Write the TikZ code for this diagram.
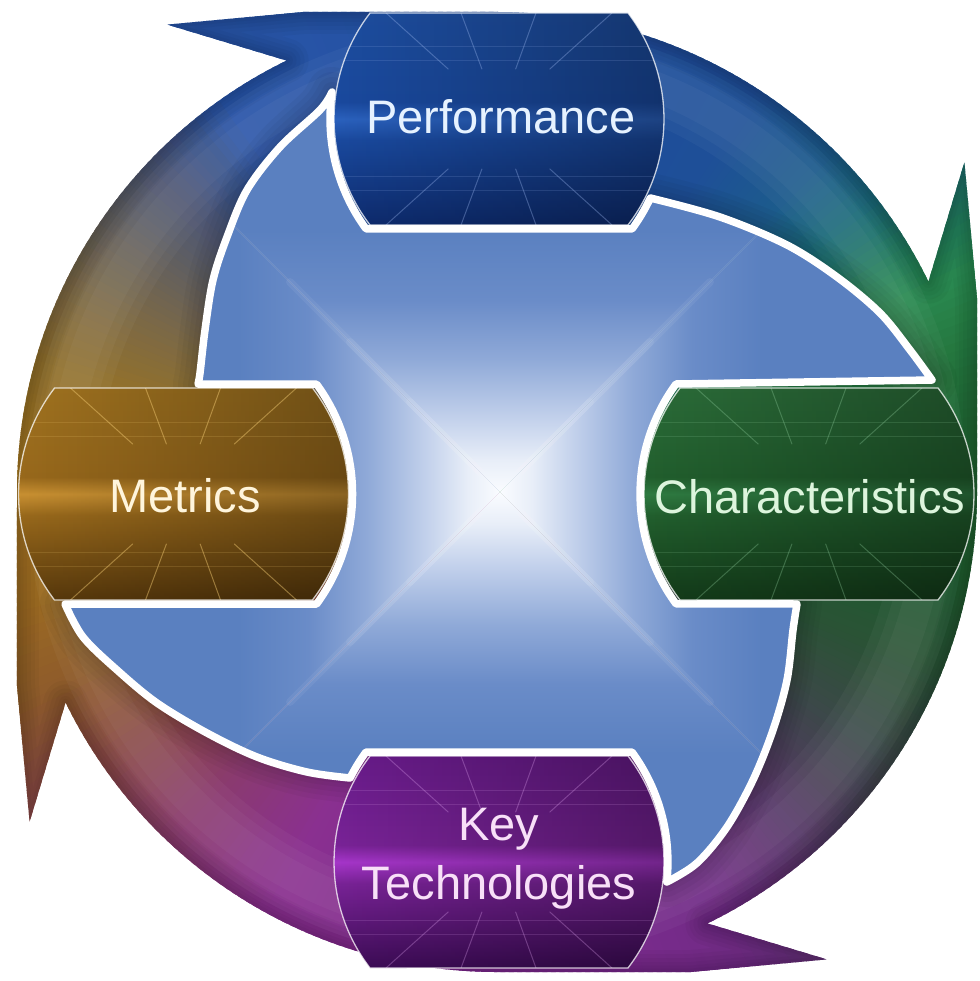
\documentclass[tikz,border=0pt]{standalone}
\usepackage{fontspec}
\newfontfamily\labelfont{Liberation Sans}
\usetikzlibrary{fadings}

% box colours
\definecolor{perfTop}{HTML}{1E4FA2}
\definecolor{perfMid}{HTML}{1A4AA0}
\definecolor{perfHi}{HTML}{2B62C0}
\definecolor{perfBot}{HTML}{0E2C70}
\definecolor{perfGrid}{HTML}{9DB8F0}
\definecolor{perfText}{HTML}{E6F2FF}

\definecolor{charTop}{HTML}{2C6E3A}
\definecolor{charMid}{HTML}{22602E}
\definecolor{charHi}{HTML}{2F7C42}
\definecolor{charBot}{HTML}{143C1A}
\definecolor{charGrid}{HTML}{9AD8A8}
\definecolor{charText}{HTML}{DDF5DD}

\definecolor{keyTop}{HTML}{6A1C8C}
\definecolor{keyMid}{HTML}{7A2398}
\definecolor{keyHi}{HTML}{A836CC}
\definecolor{keyBot}{HTML}{3E0C58}
\definecolor{keyGrid}{HTML}{E4A8F4}
\definecolor{keyText}{HTML}{F8E0F8}

\definecolor{metrTop}{HTML}{A27420}
\definecolor{metrMid}{HTML}{9A6A1C}
\definecolor{metrHi}{HTML}{CB9232}
\definecolor{metrBot}{HTML}{5A3A0C}
\definecolor{metrGrid}{HTML}{F4CC74}
\definecolor{metrText}{HTML}{FFF5DC}

% hub colours, from the centre outwards
\definecolor{hubA}{HTML}{FAFCFF}
\definecolor{hubB}{HTML}{E8EEF8}
\definecolor{hubC}{HTML}{C4D2EC}
\definecolor{hubD}{HTML}{90AAD8}
\definecolor{hubE}{HTML}{6A8CC8}
\definecolor{hubF}{HTML}{5A80C0}

% (a shaded path spans 25bp..75bp of its shading)
\pgfdeclareverticalshading{perfshade}{100bp}{color(0bp)=(perfBot); color(25bp)=(perfBot); color(45bp)=(perfMid); color(50bp)=(perfHi); color(54bp)=(perfMid); color(75bp)=(perfTop); color(100bp)=(perfTop)}
\pgfdeclareverticalshading{charshade}{100bp}{color(0bp)=(charBot); color(25bp)=(charBot); color(45bp)=(charMid); color(50bp)=(charHi); color(54bp)=(charMid); color(75bp)=(charTop); color(100bp)=(charTop)}
\pgfdeclareverticalshading{keyshade}{100bp}{color(0bp)=(keyBot); color(25bp)=(keyBot); color(45bp)=(keyMid); color(50bp)=(keyHi); color(54bp)=(keyMid); color(75bp)=(keyTop); color(100bp)=(keyTop)}
\pgfdeclareverticalshading{metrshade}{100bp}{color(0bp)=(metrBot); color(25bp)=(metrBot); color(45bp)=(metrMid); color(50bp)=(metrHi); color(54bp)=(metrMid); color(75bp)=(metrTop); color(100bp)=(metrTop)}

% square hub gradient: four triangles, each shaded from the centre outwards
\pgfdeclareverticalshading{hubup}{100bp}{color(0bp)=(hubA); color(25bp)=(hubA); color(28.3bp)=(hubB); color(32.5bp)=(hubC); color(38.75bp)=(hubD); color(45bp)=(hubE); color(52.3bp)=(hubF); color(100bp)=(hubF)}
\pgfdeclareverticalshading{hubdown}{100bp}{color(0bp)=(hubF); color(47.7bp)=(hubF); color(55bp)=(hubE); color(61.25bp)=(hubD); color(67.5bp)=(hubC); color(71.7bp)=(hubB); color(75bp)=(hubA); color(100bp)=(hubA)}
\pgfdeclarehorizontalshading{hubright}{100bp}{color(0bp)=(hubA); color(25bp)=(hubA); color(28.3bp)=(hubB); color(32.5bp)=(hubC); color(38.75bp)=(hubD); color(45bp)=(hubE); color(52.3bp)=(hubF); color(100bp)=(hubF)}
\pgfdeclarehorizontalshading{hubleft}{100bp}{color(0bp)=(hubF); color(47.7bp)=(hubF); color(55bp)=(hubE); color(61.25bp)=(hubD); color(67.5bp)=(hubC); color(71.7bp)=(hubB); color(75bp)=(hubA); color(100bp)=(hubA)}

\tikzfading[name=darkright, left color=transparent!100, right color=transparent!0]

\tikzset{
  boxlabel/.style={font=\labelfont\fontsize{47}{59}\selectfont, inner sep=0pt, align=center},
  gridline/.style={line width=1pt, line cap=round},
  boxrim/.style={draw=white, draw opacity=0.75, line width=1.3pt},
  hubrim/.style={draw=white, line width=7.5pt, line join=round},
}

% label box: straight top and bottom, bulging circular sides (local coordinates)
\def\boxshape{(-129,-106) -- (129,-106) arc[start angle=-37.5, end angle=37.5, radius=174.06] -- (-129,106) arc[start angle=142.5, end angle=217.5, radius=174.06] -- cycle}

% outline of the light hub, hugging the four boxes
\def\centralpath{(332,92) arc[start angle=188.3, end angle=143.8, radius=186.1]
  -- (632,229) arc[start angle=36.2, end angle=25.1, radius=186.1]
  -- plot[smooth, tension=0.55] coordinates {(650.3,198) (720,217) (787,245) (837,277) (880,313) (910,350) (932,380)}
  -- (676,384) arc[start angle=216.2, end angle=143.8, radius=186.1]
  -- (797,604)
  -- plot[smooth, tension=0.55] coordinates {(797,604) (793,630) (787,680) (773,730) (753,780) (727,827) (697,863) (666.8,882)}
  arc[start angle=6.2, end angle=-36.2, radius=186.1]
  -- (366,752) arc[start angle=216.2, end angle=206.8, radius=186.1]
  -- plot[smooth, tension=0.55] coordinates {(350.1,778) (307,772) (257,757) (207,733) (157,703) (117,670) (83,637) (65,604)}
  -- (316.6,604) arc[start angle=36.2, end angle=-36.2, radius=186.1]
  -- (198,384)
  -- plot[smooth, tension=0.55] coordinates {(198,384) (200,373) (205,330) (213,280) (227,237) (247,190) (280,147) (320,110) (332,92)}
  -- cycle}

% one label box: centre x, centre y, shading, grid options
\newcommand\cyclebox[4]{%
  \begin{scope}[shift={(#1,#2)}]
    \shade[shading=#3] \boxshape;
    \fill[black, fill opacity=0.33, path fading=darkright] \boxshape;
    \begin{scope}
      \clip \boxshape;
      \foreach \gx in {-113,-38,37,113}{
        \draw[gridline, #4] (\gx,-106) -- ({0.45*\gx},-50);
        \draw[gridline, #4] (\gx,106) -- ({0.45*\gx},50);
      }
      \foreach \gy in {-72,-58,58,72}
        \draw[gridline, #4, draw opacity=0.16] (-170,\gy) -- (170,\gy);
    \end{scope}
    \draw[boxrim] \boxshape;
  \end{scope}}

\begin{document}
\begin{tikzpicture}[x=1pt, y=-1pt]
\useasboundingbox (0,0) rectangle (979,981);
\fill[white] (0,0) rectangle (979,981);

% ---- the circular band of four arrows ----
\begin{scope}[shift={(497,492)}]
\begin{scope}[yscale=-1]
  \def\ringedge{(125.2:572) -- (112:517.7) -- (90:480) arc[start angle=90, end angle=26, radius=480]
    -- (35.2:572) -- (22:517.7) -- (0:480) arc[start angle=0, end angle=-64, radius=480]
    -- (-54.8:572) -- (-68:517.7) -- (-90:480) arc[start angle=-90, end angle=-154, radius=480]
    -- (-144.8:572) -- (-158:517.7) -- (-180:480) arc[start angle=-180, end angle=-244, radius=480]
    -- cycle}
  \begin{scope}
    \clip \ringedge;
    \foreach \ra/\rc [remember=\ra as \pra (initially 126), remember=\rc as \prc (initially 2A56AA)] in
      {126/2A56AA, 110/2653A5, 80/1F4C9C, 58/1E4F98, 46/1C5B8C, 38/1A6A78, 31/227C5C, 26/2A8A52,
       18/25783F, 8/1F6633, -10/1E5B2F, -22/2B5236, -32/394A46, -42/4A3E58, -52/5E3470, -62/722C86,
       -75/7A2A8E, -100/7E2A8E, -118/8A3090, -132/8A3A70, -145/8A4A48, -155/8E5A2C, -166/9A6A22,
       -182/A67820, -196/90702E, -206/7A6848, -216/5E5E62, -224/4A5578, -230/34528F, -234/2A56AA}{
      \pgfmathtruncatemacro{\rn}{\pra-(\ra)}
      \ifnum\rn>0
        \definecolor{ringA}{HTML}{\prc}
        \definecolor{ringB}{HTML}{\rc}
        \foreach \ri in {1,...,\rn}{
          \pgfmathsetmacro{\rt}{\pra-\ri+1}
          \pgfmathtruncatemacro{\rp}{100*(\ri-1)/\rn}
          \fill[ringB!\rp!ringA] (0,0) -- (\rt:650) arc[start angle=\rt, end angle=\rt-1.6, radius=650] -- cycle;
        }
      \fi
    }
    % soft tube look: lighter middle, darker rim
    \foreach \w in {70,50,30}
      \draw[white, draw opacity=0.035, line width=\w] (0,0) circle[radius=435];
    \foreach \w in {44,36,28,20,13,7}
      \draw[black, draw opacity=0.03, line width=\w, line join=round] \ringedge;
  \end{scope}
\end{scope}
\end{scope}

% shadow of the band along the hub
\foreach \w in {50,40,30,20,12}
  \draw[black, draw opacity=0.035, line width=\w, line join=round] \centralpath;

% ---- light hub ----
\begin{scope}
  \clip \centralpath;
  \shade[shading=hubup] (500,492) -- (20,12) -- (980,12) -- cycle;
  \shade[shading=hubdown] (500,492) -- (20,972) -- (980,972) -- cycle;
  \shade[shading=hubright] (500,492) -- (980,12) -- (980,972) -- cycle;
  \shade[shading=hubleft] (500,492) -- (20,12) -- (20,972) -- cycle;
  % soft light creases along the diagonals, strongest near the centre
  \draw[white, draw opacity=0.10, line width=1.5] (20,12) -- (980,972) (980,12) -- (20,972);
  \foreach \dl in {90,150,210}
    \draw[white, draw opacity=0.06, line width=8, line cap=round]
      (500-\dl,492-\dl) -- (500+\dl,492+\dl) (500+\dl,492-\dl) -- (500-\dl,492+\dl);
\end{scope}
\draw[hubrim] \centralpath;

% ---- label boxes ----
\cyclebox{499}{119}{perfshade}{draw=perfGrid, draw opacity=0.35}
\cyclebox{809}{494}{charshade}{draw=charGrid, draw opacity=0.3}
\cyclebox{499}{862}{keyshade}{draw=keyGrid, draw opacity=0.3}
\cyclebox{183.5}{494}{metrshade}{draw=metrGrid, draw opacity=0.45}

\node[boxlabel, text=perfText] (perf) at (501,117) {Performance};
\node[boxlabel, text=charText] (char) at (810,497) {Characteristics};
\node[boxlabel, text=keyText] (keyt) at (499,859) {Key\\Technologies};
\node[boxlabel, text=metrText] (metr) at (185,496) {Metrics};
\end{tikzpicture}
\end{document}
